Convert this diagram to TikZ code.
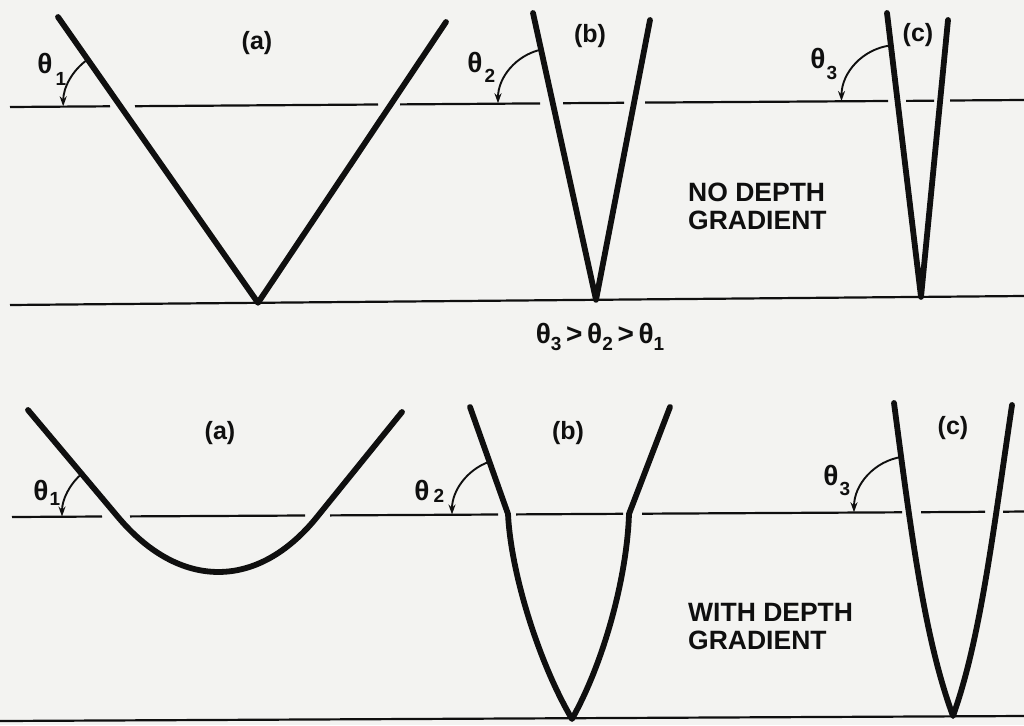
\documentclass[tikz,border=0pt]{standalone}
\usepackage{fontspec}
\setmainfont{Liberation Sans}
\usetikzlibrary{arrows.meta}
\definecolor{paper}{RGB}{243,243,241}
\definecolor{ink}{RGB}{15,15,15}
\tikzset{
  wall/.style={ink, line width=5.8pt, line cap=round, line join=round},
  base/.style={ink, line width=2.2pt},
  ang/.style={ink, line width=1.9pt, -{Stealth[length=10pt,width=7pt]}},
  lab/.style={font=\fontsize{25}{27}\selectfont\bfseries, inner sep=0pt, text=ink},
  th/.style={font=\fontsize{28}{30}\selectfont\bfseries, inner sep=0pt, text=ink},
  sub/.style={font=\fontsize{19}{21}\selectfont\bfseries, inner sep=0pt, text=ink},
  note/.style={font=\fontsize{26.5}{30}\selectfont\bfseries, inner sep=0pt, anchor=west, text=ink},
}
\begin{document}
\begin{tikzpicture}[x=1pt,y=-1pt]
\fill[paper] (0,0) rectangle (1024,725);
\useasboundingbox (0,0) rectangle (1024,725);

% ---------- top panel: no depth gradient ----------
\coordinate (Va) at (258,302.8);
\coordinate (Vb) at (596,299.8);
\coordinate (Vc) at (921,296.9);
\draw[base] (10,305) -- (1024,296);
\draw[base] (10,107) -- (110,106.3) (135,106.2) -- (378,104.5) (400,104.4) -- (540,103.4)
  (563,103.2) -- (624,102.8) (645,102.6) -- (888,101) (906,100.9) -- (934,100.7) (950,100.5) -- (1024,100);
\draw[wall] (58,17) -- (Va) -- (446,22);
\draw[wall] (533,13) -- (Vb) -- (650,20);
\draw[wall] (887,13) -- (Vc) -- (948,20);

\coordinate (c1) at (120.2,106.3);
\coordinate (c2) at (553,103.3);
\coordinate (c3) at (897.5,101);
\draw[ang] (c1) ++(235:57) arc[start angle=235, end angle=180, radius=57];
\draw[ang] (c2) ++(257.6:55) arc[start angle=257.6, end angle=180, radius=55];
\draw[ang] (c3) ++(263:56) arc[start angle=263, end angle=180, radius=56];

\node[lab] (la) at (257,43) {(a)};
\node[lab] (lb) at (590,36) {(b)};
\node[lab] (lc) at (918,35) {(c)};
\node[th] (t1) at (45,63) {θ};  \node[sub] (t1s) at (61,79) {1};
\node[th] (t2) at (475,62) {θ}; \node[sub] (t2s) at (490,76) {2};
\node[th] (t3) at (818,58) {θ}; \node[sub] (t3s) at (832,73) {3};
\node[note] (nd1) at (688,192) {NO DEPTH};
\node[note] (nd2) at (688,220) {GRADIENT};

\node[th] (rel) at (600,337) {θ\raisebox{-7pt}{\fontsize{19}{21}\selectfont 3}\,>\,θ\raisebox{-7pt}{\fontsize{19}{21}\selectfont 2}\,>\,θ\raisebox{-7pt}{\fontsize{19}{21}\selectfont 1}};

% ---------- bottom panel: with depth gradient ----------
\coordinate (Vb2) at (572,719);
\coordinate (Vc2) at (953,716);
\draw[base] (0,721) -- (1024,716);
\draw[base] (12,517) -- (102,516.5) (130,516.4) -- (305,515.5) (330,515.4) -- (498,514.5)
  (516,514.4) -- (623,513.8) (642,513.7) -- (902,512.3) (921,512.2) -- (985,511.8) (1003,511.7) -- (1024,511.5);
\draw[wall] (28,410) -- (118,517) .. controls (179.7,590.3) and (257.7,590.3) .. (317,517) -- (402,412);
\draw[wall] (470,407) -- (508,514) .. controls (511,575) and (540,665) .. (Vb2)
  .. controls (605,660) and (627,575) .. (629,514) -- (670,407);
\draw[wall] (894,403) .. controls (912,540) and (925,640) .. (Vc2)
  .. controls (980,640) and (992,540) .. (1012,405);

\coordinate (c4) at (118,516.5);
\coordinate (c5) at (508,514.5);
\coordinate (c6) at (910,512.3);
\draw[ang] (c4) ++(230:56) arc[start angle=230, end angle=180, radius=56];
\draw[ang] (c5) ++(250.4:56) arc[start angle=250.4, end angle=180, radius=56];
\draw[ang] (c6) ++(261.6:56) arc[start angle=261.6, end angle=180, radius=56];

\node[lab] (la2) at (220,433) {(a)};
\node[lab] (lb2) at (568,433) {(b)};
\node[lab] (lc2) at (953,428) {(c)};
\node[th] (t4) at (41,490) {θ};  \node[sub] (t4s) at (55,499) {1};
\node[th] (t5) at (422,490) {θ}; \node[sub] (t5s) at (439,496) {2};
\node[th] (t6) at (831,475) {θ}; \node[sub] (t6s) at (845,489) {3};
\node[note] (wd1) at (688,612) {WITH DEPTH};
\node[note] (wd2) at (688,640) {GRADIENT};
\end{tikzpicture}
\end{document}
